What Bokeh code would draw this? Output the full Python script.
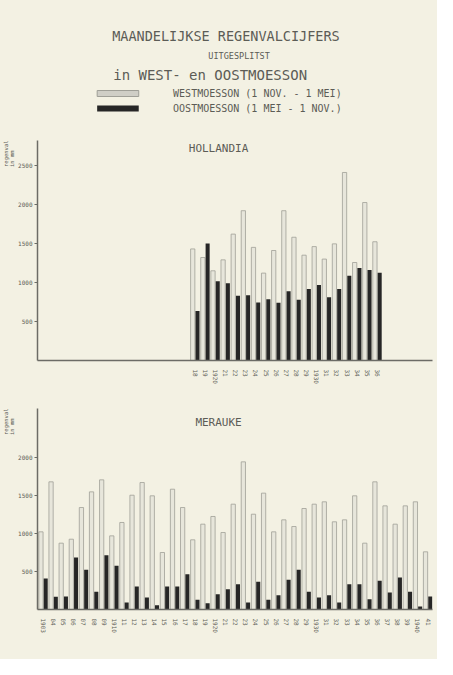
from bokeh.plotting import figure
from bokeh.models import Range1d, FixedTicker, Label, Title, ColumnDataSource
from bokeh.layouts import column
from bokeh.transform import dodge
from bokeh.embed import file_html
from bokeh.resources import INLINE
from bokeh.core.properties import value

# ---------------- data ----------------
title_lines = ["MAANDELIJKSE  REGENVALCIJFERS", "UITGESPLITST", "in  WEST-  en  OOSTMOESSON"]
legend_labels = ["WESTMOESSON  (1 NOV. - 1 MEI)", "OOSTMOESSON  (1 MEI - 1 NOV.)"]
y_title = "regenval\nin mm"

hollandia_years = list(range(1918, 1937))
hollandia_west = [1430, 1320, 1150, 1290, 1620, 1920, 1450, 1120, 1410, 1920,
                  1580, 1350, 1460, 1300, 1495, 2410, 1256, 2025, 1522]
hollandia_east = [636, 1500, 1015, 990, 830, 837, 744, 786, 740, 887,
                  778, 918, 968, 812, 918, 1087, 1186, 1160, 1125]
hollandia_yticks = [500, 1000, 1500, 2000, 2500]
hollandia_labels = [str(y) if y % 10 == 0 else "%02d" % (y % 100) for y in hollandia_years]

merauke_years = list(range(1903, 1942))
merauke_west = [1022, 1680, 873, 925, 1342, 1548, 1706, 969, 1145, 1504,
                1671, 1496, 750, 1583, 1342, 917, 1123, 1224, 1013, 1386,
                1943, 1254, 1531, 1022, 1180, 1092, 1329, 1386, 1417, 1154,
                1180, 1496, 873, 1680, 1364, 1123, 1364, 1417, 759]
merauke_east = [408, 167, 171, 684, 522, 232, 715, 575, 92, 302,
                158, 57, 302, 302, 465, 127, 83, 202, 268, 333,
                92, 364, 127, 189, 390, 522, 232, 158, 189, 92,
                333, 333, 136, 377, 224, 421, 232, 40, 171]
merauke_yticks = [500, 1000, 1500, 2000]
merauke_labels = [str(y) if (y % 10 == 0 or y == 1903) else "%02d" % (y % 100) for y in merauke_years]

# ---------------- style ----------------
PAPER = "#f3f1e3"
INK = "#5c5c56"
AXIS = "#6c6c66"
LIGHT_FILL = "#e7e6db"
LIGHT_LINE = "#9f9f97"
DARK = "#262626"
FONT = value("DejaVu Sans Mono")

W = 437

# ---------------- header ----------------
hdr = figure(width=W, height=127, x_range=Range1d(0, W), y_range=Range1d(127, 0),
             output_backend="svg", toolbar_location=None, min_border=0,
             x_axis_location=None, y_axis_location=None,
             background_fill_color=PAPER, border_fill_color=PAPER, outline_line_color=None)
hdr.grid.visible = False
hdr.text(x=[213], y=[35], text=[title_lines[0]], text_font=FONT, text_font_size="13.5px",
         text_align="center", text_baseline="middle", text_color=INK)
hdr.text(x=[223], y=[55], text=[title_lines[1]], text_font=FONT, text_font_size="8.5px",
         text_align="center", text_baseline="middle", text_color=INK)
hdr.text(x=[205], y=[74], text=[title_lines[2]], text_font=FONT, text_font_size="14px",
         text_align="center", text_baseline="middle", text_color=INK)
hdr.quad(left=[66], right=[112], top=[90], bottom=[96], fill_color="#cfcec6",
         line_color=LIGHT_LINE, line_width=1)
hdr.quad(left=[66], right=[112], top=[105], bottom=[111], fill_color=DARK, line_color=None)
hdr.text(x=[150, 150], y=[93, 108], text=legend_labels, text_font=FONT, text_font_size="10px",
         text_align="left", text_baseline="middle", text_color=INK)


def chart(name, years, west, east, yticks, labels, height, top, bottom, ymax, name_y):
    p = figure(width=W, height=height, x_range=Range1d(1902.41, 1941.44), y_range=Range1d(0, ymax),
               output_backend="svg", toolbar_location=None,
               min_border_left=37, min_border_right=5, min_border_top=top, min_border_bottom=bottom,
               background_fill_color=PAPER, border_fill_color=PAPER, outline_line_color=None)
    p.grid.visible = False
    src = ColumnDataSource(dict(year=years, west=west, east=east))
    p.vbar(x=dodge("year", -0.25), top="west", bottom=0, width=0.42, source=src,
           fill_color=LIGHT_FILL, line_color=LIGHT_LINE, line_width=0.8)
    p.vbar(x=dodge("year", 0.22), top="east", bottom=0, width=0.4, source=src,
           fill_color=DARK, line_color=None)

    xa = p.xaxis[0]
    xa.ticker = FixedTicker(ticks=years)
    xa.major_label_overrides = {y: l for y, l in zip(years, labels)}
    xa.major_label_orientation = "vertical"
    xa.major_tick_line_color = None
    xa.minor_tick_line_color = None
    xa.axis_line_color = AXIS
    xa.axis_line_width = 1.5
    xa.major_label_text_font_size = "6px"
    xa.major_label_text_color = INK
    xa.major_label_text_font = "DejaVu Sans Mono"
    xa.major_label_standoff = 3

    ya = p.yaxis[0]
    ya.ticker = FixedTicker(ticks=yticks)
    ya.minor_tick_line_color = None
    ya.major_tick_in = 0
    ya.major_tick_out = 3
    ya.major_tick_line_color = AXIS
    ya.axis_line_color = AXIS
    ya.axis_line_width = 1.5
    ya.major_label_text_font_size = "6px"
    ya.major_label_text_color = INK
    ya.major_label_text_font = "DejaVu Sans Mono"
    ya.major_label_standoff = 2

    p.add_layout(Title(text=y_title, align="right", text_font_size="5.5px", standoff=1,
                       text_color=INK, text_font_style="normal",
                       text_font="DejaVu Sans Mono"), "left")
    p.add_layout(Label(x=1920.3, y=name_y, text=name, text_align="center",
                       text_baseline="middle", text_font_size="11px",
                       text_font="DejaVu Sans Mono", text_color=INK))
    return p


p1 = chart("HOLLANDIA", hollandia_years, hollandia_west, hollandia_east, hollandia_yticks,
           hollandia_labels, height=265, top=13, bottom=32, ymax=2820, name_y=2718)
p2 = chart("MERAUKE", merauke_years, merauke_west, merauke_east, merauke_yticks,
           merauke_labels, height=267, top=16, bottom=50, ymax=2645, name_y=2460)

layout = column(hdr, p1, p2, spacing=0, styles={"background-color": PAPER, "gap": "0px"})
open("out.html", "w").write(file_html(layout, INLINE))
